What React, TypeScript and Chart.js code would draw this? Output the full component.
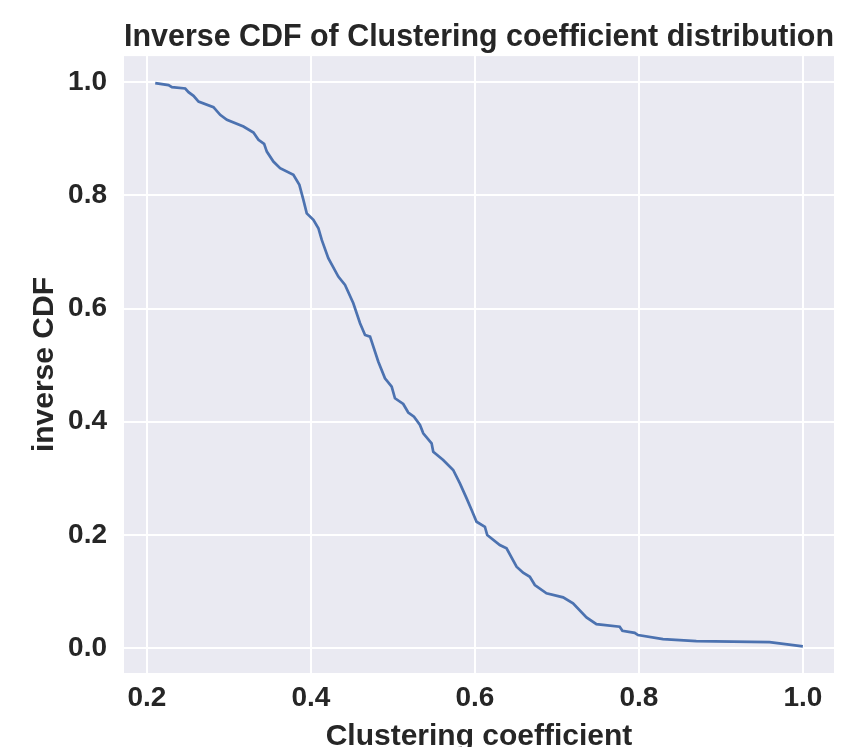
import React, { useEffect, useRef } from "react";
import { Chart, registerables } from "chart.js";

Chart.register(...registerables);

// Clustering coefficient (x) values
const clusteringCoefficient = [
  0.2101, 0.2263, 0.2305, 0.2467, 0.2507, 0.2568, 0.2629, 0.2811, 0.2893, 0.2975,
  0.3177, 0.3299, 0.336, 0.3429, 0.3462, 0.3542, 0.3624, 0.3786, 0.3859, 0.3908,
  0.3949, 0.403, 0.4091, 0.4132, 0.4212, 0.4334, 0.4416, 0.4517, 0.4599, 0.466,
  0.4721, 0.4822, 0.4903, 0.4985, 0.5025, 0.5126, 0.5187, 0.5257, 0.533, 0.537,
  0.5472, 0.5492, 0.5613, 0.5735, 0.5817, 0.5899, 0.596, 0.602, 0.6122, 0.615,
  0.6304, 0.6386, 0.6508, 0.6588, 0.667, 0.6731, 0.6873, 0.7076, 0.7197, 0.7361,
  0.7482, 0.7766, 0.7799, 0.7949, 0.7989, 0.8294, 0.8701, 0.9594, 1.0,
];

// Inverse CDF (y) values
const inverseCdf = [
  0.9982, 0.9947, 0.9912, 0.9887, 0.9823, 0.9758, 0.9657, 0.9558, 0.9422, 0.9334,
  0.9215, 0.9109, 0.898, 0.8909, 0.8773, 0.8597, 0.848, 0.8361, 0.8185, 0.7919,
  0.7681, 0.7566, 0.7419, 0.7212, 0.6889, 0.6564, 0.6417, 0.6093, 0.574, 0.5533,
  0.5503, 0.5061, 0.4768, 0.4619, 0.4414, 0.4313, 0.4163, 0.4089, 0.3942, 0.3795,
  0.3619, 0.347, 0.3323, 0.3147, 0.2911, 0.2646, 0.2439, 0.2233, 0.2144, 0.1998,
  0.1821, 0.1762, 0.1437, 0.1331, 0.126, 0.1114, 0.0967, 0.0896, 0.079, 0.0543,
  0.0424, 0.0377, 0.0306, 0.027, 0.023, 0.0159, 0.0124, 0.0106, 0.003,
];

const xTicks = [0.2, 0.4, 0.6, 0.8, 1.0];
const yTicks = [0.0, 0.2, 0.4, 0.6, 0.8, 1.0];

const TEXT = "#262626";
const FONT = "'Liberation Sans', Arial, Helvetica, sans-serif";

const plotBg = {
  id: "plotBg",
  beforeDraw(chart: any) {
    const { ctx, chartArea } = chart;
    if (!chartArea) return;
    ctx.save();
    ctx.fillStyle = "#EAEAF2";
    ctx.fillRect(chartArea.left, chartArea.top, chartArea.right - chartArea.left, chartArea.bottom - chartArea.top);
    ctx.restore();
  },
};

export default function App() {
  const ref = useRef<HTMLCanvasElement | null>(null);

  useEffect(() => {
    document.body.style.margin = "0";
    if (!ref.current) return;
    const points = clusteringCoefficient.map((x, i) => ({ x, y: inverseCdf[i] }));
    const chart = new Chart(ref.current, {
      type: "line",
      data: {
        datasets: [
          {
            data: points,
            borderColor: "#4C72B0",
            borderWidth: 2.7,
            pointRadius: 0,
            tension: 0,
            fill: false,
          },
        ],
      },
      options: {
        animation: false,
        responsive: true,
        maintainAspectRatio: false,
        layout: { padding: { left: 0, right: 24, top: 0, bottom: 0 } },
        plugins: {
          legend: { display: false },
          tooltip: { enabled: false },
          title: {
            display: true,
            text: "Inverse CDF of Clustering coefficient distribution",
            color: TEXT,
            fullSize: false,
            font: { family: FONT, size: 30.5, weight: "bold", lineHeight: 1.2 },
            padding: { top: 19.5, bottom: 0 },
          },
        },
        scales: {
          x: {
            type: "linear",
            min: 0.172,
            max: 1.038,
            afterBuildTicks: (scale: any) => {
              scale.ticks = xTicks.map((v) => ({ value: v }));
            },
            afterFit: (scale: any) => {
              scale.height = 74;
            },
            grid: { color: "#FFFFFF", lineWidth: 2, drawTicks: false },
            border: { display: false },
            ticks: {
              color: TEXT,
              padding: 8,
              font: { family: FONT, size: 28, weight: "bold" },
              callback: (v: any) => Number(v).toFixed(1),
            },
            title: {
              display: true,
              text: "Clustering coefficient",
              color: TEXT,
              font: { family: FONT, size: 30, weight: "bold", lineHeight: 0.7 },
              padding: { top: 0, bottom: 0 },
            },
          },
          y: {
            type: "linear",
            min: -0.044,
            max: 1.046,
            afterBuildTicks: (scale: any) => {
              scale.ticks = yTicks.map((v) => ({ value: v }));
            },
            afterFit: (scale: any) => {
              scale.width = 124;
            },
            grid: { color: "#FFFFFF", lineWidth: 2, drawTicks: false },
            border: { display: false },
            ticks: {
              color: TEXT,
              padding: 17,
              font: { family: FONT, size: 28, weight: "bold" },
              callback: (v: any) => Number(v).toFixed(1),
            },
            title: {
              display: true,
              text: "inverse CDF",
              color: TEXT,
              font: { family: FONT, size: 30, weight: "bold", lineHeight: 1.2 },
              padding: { top: 27, bottom: 0 },
            },
          },
        },
      },
      plugins: [plotBg],
    });
    return () => chart.destroy();
  }, []);

  return (
    <div style={{ position: "relative", width: 858, height: 747 }}>
      <canvas ref={ref} />
    </div>
  );
}
